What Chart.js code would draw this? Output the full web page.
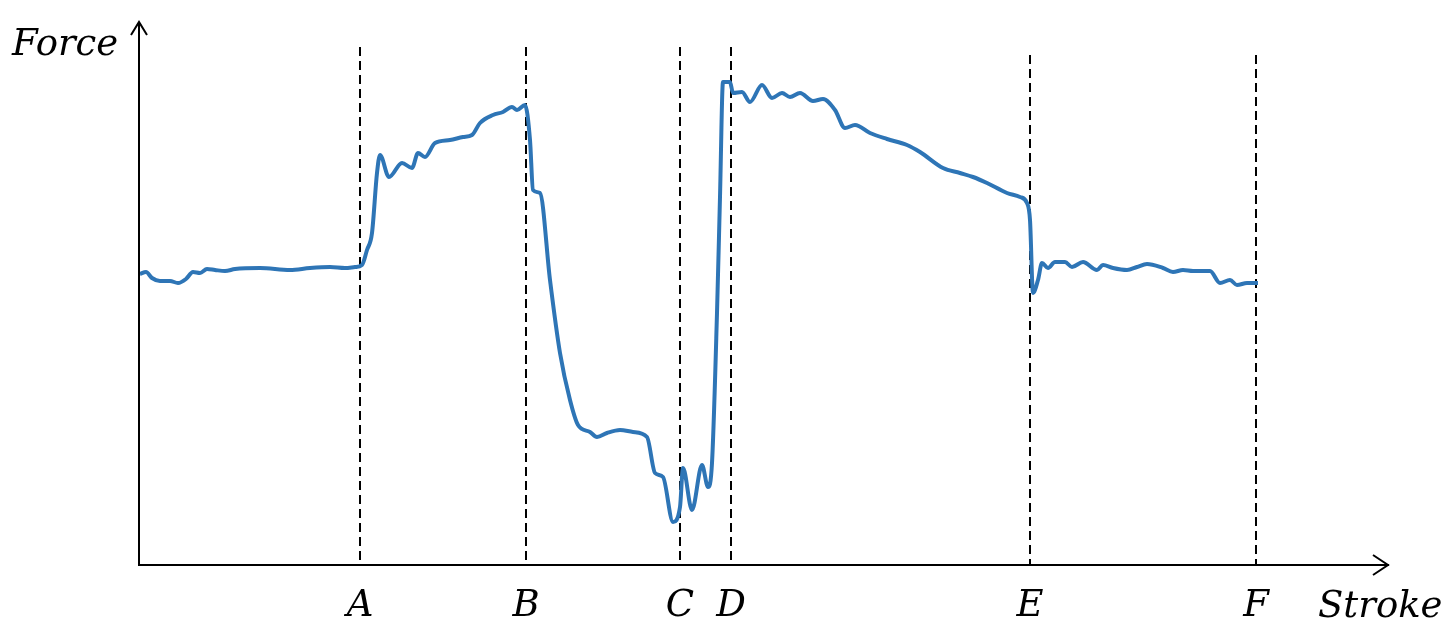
<!DOCTYPE html>
<html>
<head>
<meta charset="utf-8">
<script src="https://cdn.jsdelivr.net/npm/chart.js@4.4.1/dist/chart.umd.min.js"></script>
<style>
  html, body { margin: 0; padding: 0; background: #fff; }
  #wrap { width: 1450px; height: 644px; position: relative; }
</style>
</head>
<body>
<div id="wrap"><canvas id="forceChart"></canvas></div>
<script>
// stroke / force (arbitrary units)
const strokeVals = [
  0.1, 0.7, 1.3, 2.1, 3.1, 3.9, 4.7, 5.4, 6.1, 6.8, 7.6, 8.6, 9.6, 12.1, 15.1, 17.1, 19.1, 20.6, 21.6,
  22.3, 22.8, 23.3, 23.8, 24.1, 25.0, 26.3, 27.3, 27.9, 28.6, 29.6, 31.1, 32.4, 33.3, 34.1, 35.4, 36.4,
  37.3, 37.8, 38.6, 39.1, 39.4, 40.1, 41.1, 42.1, 43.1, 43.9, 45.1, 45.8, 46.8, 48.1, 49.4, 50.8, 51.6,
  52.4, 53.4, 54.1, 54.4, 55.3, 56.3, 56.9, 57.3, 57.8, 58.1, 58.4, 59.1, 59.4, 60.3, 61.1, 62.3, 63.3,
  64.3, 65.1, 66.1, 67.4, 68.4, 69.6, 70.6, 71.6, 73.1, 74.8, 76.8, 78.1, 80.4, 82.1, 83.4, 84.8, 86.8,
  88.1, 88.8, 89.1, 89.4, 89.9, 90.3, 90.9, 91.6, 92.6, 93.3, 94.4, 95.8, 96.4, 97.4, 98.8, 99.8, 100.8,
  102.4, 103.4, 104.4, 105.4, 107.1, 108.1, 109.1, 109.8, 110.8, 111.9
];
const forceVals = [
  29.1, 29.3, 28.7, 28.4, 28.4, 28.2, 28.6, 29.3, 29.2, 29.6, 29.5, 29.4, 29.6, 29.7, 29.5, 29.7, 29.8, 29.7, 29.8,
  30.0, 31.5, 33.2, 39.2, 41.0, 38.8, 40.2, 39.7, 41.2, 40.8, 42.2, 42.5, 42.8, 43.0, 44.2, 45.0, 45.3,
  45.8, 45.5, 46.0, 42.5, 37.5, 37.2, 28.5, 21.2, 16.5, 14.0, 13.3, 12.8, 13.2, 13.5, 13.3, 12.8, 9.2,
  8.8, 4.3, 5.8, 9.7, 5.5, 10.0, 7.8, 10.2, 25.2, 36.8, 48.3, 48.3, 47.2, 47.3, 46.3, 48.0, 46.7,
  47.2, 46.8, 47.2, 46.4, 46.6, 45.5, 43.7, 44.0, 43.2, 42.6, 42.0, 41.3, 39.7, 39.2, 38.8, 38.2, 37.2,
  36.8, 36.2, 34.5, 27.2, 28.5, 30.2, 29.7, 30.3, 30.3, 29.8, 30.3, 29.5, 30.0, 29.7, 29.5, 29.8, 30.1,
  29.7, 29.3, 29.5, 29.4, 29.4, 28.2, 28.5, 28.0, 28.2, 28.2
];

const markerLabels = ['A', 'B', 'C', 'D', 'E', 'F'];
const markerStroke = [22.1, 38.7, 54.1, 59.2, 89.1, 111.7];
const markerTop = [51.8, 51.8, 51.8, 51.8, 51.0, 51.0];

const xMax = 124.9;
const yMax = 54.3;
const labelFont = 'italic 37px "DejaVu Serif"';

const curve = strokeVals.map((s, i) => ({ x: s, y: forceVals[i] }));

// dashed guides, drawn top-down so the dash pattern starts at the top
const markerSets = markerStroke.map((s, i) => ({
  data: [{ x: s, y: markerTop[i] }, { x: s, y: 0 }],
  borderColor: '#000',
  borderWidth: 2,
  borderDash: [9, 5],
  pointRadius: 0,
  tension: 0
}));

// axis arrows + "Force" / "Stroke" captions
const arrowAxes = {
  id: 'arrowAxes',
  afterDraw(chart) {
    const { ctx, chartArea: a } = chart;
    ctx.save();
    ctx.strokeStyle = '#000';
    ctx.lineWidth = 2;
    ctx.beginPath();
    ctx.moveTo(a.left, a.bottom);
    ctx.lineTo(a.left, a.top);
    ctx.moveTo(a.left - 8, a.top + 13);
    ctx.lineTo(a.left, a.top);
    ctx.lineTo(a.left + 8, a.top + 13);
    ctx.moveTo(a.right - 15, a.bottom - 10);
    ctx.lineTo(a.right, a.bottom);
    ctx.lineTo(a.right - 15, a.bottom + 10);
    ctx.stroke();

    ctx.fillStyle = '#000';
    ctx.font = labelFont;
    ctx.textBaseline = 'alphabetic';
    ctx.textAlign = 'left';
    ctx.fillText('Force', 12, 55);
    ctx.fillText('Stroke', 1318, 617);
    ctx.restore();
  }
};

new Chart(document.getElementById('forceChart'), {
  type: 'line',
  data: {
    datasets: [{
      data: curve,
      borderColor: '#2e75b6',
      borderWidth: 4,
      pointRadius: 0,
      cubicInterpolationMode: 'monotone'
    }, ...markerSets]
  },
  options: {
    responsive: true,
    maintainAspectRatio: false,
    animation: false,
    layout: { padding: { left: 139, right: 62, top: 22, bottom: 0 } },
    plugins: { legend: { display: false }, tooltip: { enabled: false } },
    scales: {
      x: {
        type: 'linear',
        min: 0,
        max: xMax,
        afterBuildTicks: axis => { axis.ticks = markerStroke.map(v => ({ value: v })); },
        afterFit: axis => { axis.height = 79; },
        ticks: {
          autoSkip: false,
          maxRotation: 0,
          padding: 28,
          color: '#000',
          font: { family: 'DejaVu Serif', style: 'italic', size: 37, lineHeight: 0.72 },
          callback: (v, i) => markerLabels[i]
        },
        grid: { display: false, drawTicks: false },
        border: { display: true, color: '#000', width: 2 }
      },
      y: { display: false, min: 0, max: yMax }
    }
  },
  plugins: [arrowAxes]
});
</script>
</body>
</html>
